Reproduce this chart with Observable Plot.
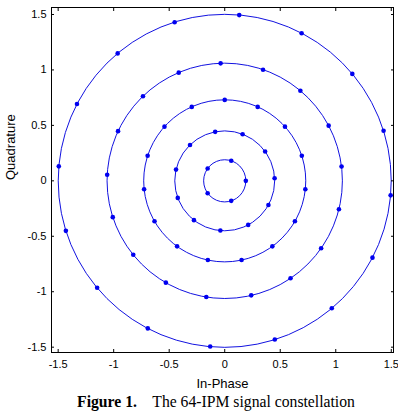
<!DOCTYPE html>
<html><head><meta charset="utf-8">
<script src="https://cdn.jsdelivr.net/npm/d3@7"></script>
<script src="https://cdn.jsdelivr.net/npm/@observablehq/plot@0.6"></script>
<style>
body{margin:0;background:#fff;width:398px;height:411px;overflow:hidden}
#cap{font-family:"Liberation Serif","Times New Roman",serif;font-size:15.7px;line-height:16px;text-align:center;margin-top:2px;margin-left:34px;color:#000;white-space:pre}
svg{display:block}
</style>
</head><body><div id="chart"></div>
<div id="cap"><b>Figure 1.</b>    The 64-IPM signal constellation</div>
<script>
// ring radii
const ringRadii = [0.19, 0.45, 0.73, 1.06, 1.5];
// angles (degrees) of the constellation points on each ring
const ring1Angles = [0, 72, 144, 216, 288];
const ring2Angles = [3, 36, 69, 101, 134, 167, 200, 232, 265, 298, 331];
const ring3Angles = [90, 66, 42, 18, 354, 330, 306, 282, 258, 234, 210, 186, 162, 138, 114];
const ring4Angles = [92, 71, 50, 28, 7, 346, 325, 304, 283, 261, 240, 219, 198, 177, 155, 134, 113];
const ring5Angles = [85, 62.5, 40, 17.5, 355, 332.5, 310, 287.5, 265, 242.5, 220, 197.5, 175, 152.5, 130, 107.5];
const tickValues = [-1.5, -1, -0.5, 0, 0.5, 1, 1.5];
const tickLabels = ["-1.5", "-1", "-0.5", "0", "0.5", "1", "1.5"];

const ringAngles = [ring1Angles, ring2Angles, ring3Angles, ring4Angles, ring5Angles];
const points = [];
ringAngles.forEach((angles, i) => {
  angles.forEach(a => {
    const t = a * Math.PI / 180;
    points.push({I: ringRadii[i] * Math.cos(t), Q: ringRadii[i] * Math.sin(t)});
  });
});
const fmt = v => tickLabels[tickValues.indexOf(v)];
const font = '"Liberation Sans", Arial, sans-serif';

const chart = Plot.plot({
  width: 398,
  height: 392,
  marginLeft: 51,
  marginRight: 5,
  marginTop: 7,
  marginBottom: 40,
  style: {fontFamily: font, fontSize: "11px", color: "#000", background: "#fff"},
  x: {domain: [-1.56, 1.52], axis: null},
  y: {domain: [-1.548, 1.563], axis: null},
  r: {type: "linear", domain: [0, 1], range: [0, 111]},
  marks: [
    Plot.dot(ringRadii, {x: 0, y: 0, r: d => d, stroke: "#1212e0", strokeWidth: 1, fill: "none"}),
    Plot.dot(points, {x: "I", y: "Q", r: 2.3, fill: "#0000f0", stroke: "none"}),
    Plot.frame({stroke: "#000", strokeWidth: 1}),
    // inward ticks on all four sides
    Plot.axisX(tickValues, {anchor: "bottom", tickSize: 3, dy: -3, tickFormat: () => "", label: null}),
    Plot.axisX(tickValues, {anchor: "top", tickSize: 3, dy: 3, tickFormat: () => "", label: null}),
    Plot.axisY(tickValues, {anchor: "left", tickSize: 3, dx: 3, tickFormat: () => "", label: null}),
    Plot.axisY(tickValues, {anchor: "right", tickSize: 3, dx: -3, tickFormat: () => "", label: null}),
    // tick labels
    Plot.axisX(tickValues, {anchor: "bottom", tickSize: 0, tickPadding: 8, tickFormat: fmt, label: null, fontSize: 11}),
    Plot.axisY(tickValues, {anchor: "left", tickSize: 0, tickPadding: 5, tickFormat: fmt, label: null, fontSize: 11}),
    Plot.text(["In-Phase"], {frameAnchor: "bottom", dy: 31, fontSize: 13, text: d => d, lineAnchor: "middle"}),
    Plot.text(["Quadrature"], {frameAnchor: "left", dx: -41, rotate: -90, fontSize: 13, text: d => d, lineAnchor: "middle"})
  ]
});
document.getElementById("chart").appendChild(chart);
</script>
</body></html>
